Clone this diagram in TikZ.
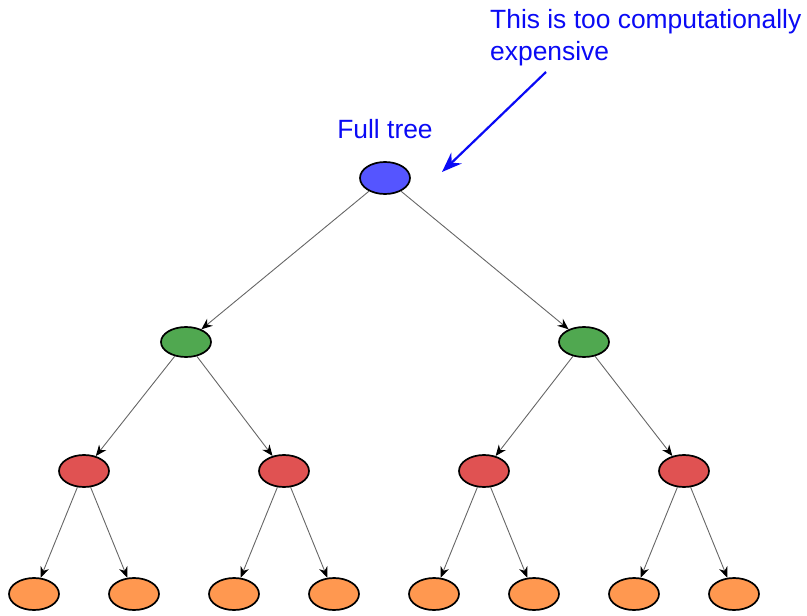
\documentclass[tikz,border=0pt]{standalone}
\usepackage{fontspec}
\setmainfont{Liberation Sans}
\usetikzlibrary{shapes.geometric,arrows.meta}
\definecolor{rootc}{RGB}{85,85,255}
\definecolor{greenc}{RGB}{80,168,80}
\definecolor{redc}{RGB}{224,82,82}
\definecolor{orangec}{RGB}{255,152,80}
\definecolor{labc}{RGB}{10,10,245}
\begin{document}
\begin{tikzpicture}[x=1pt,y=-1pt,
  tn/.style={ellipse,draw=black,line width=1.7pt,minimum width=50pt,minimum height=32pt,inner sep=0pt},
  edge/.style={draw=black!60,line width=0.9pt,-{Stealth[black,length=11pt,width=9pt]}},
  lab/.style={text=labc,font=\fontsize{26.4}{30}\selectfont,inner sep=0pt}]
\useasboundingbox (0,0) rectangle (807,616);
\node[tn,fill=rootc] (r) at (385,178) {};
\node[tn,fill=greenc,minimum height=30pt] (g1) at (186,342) {};
\node[tn,fill=greenc,minimum height=30pt] (g2) at (584,342) {};
\foreach \i/\x in {1/84,2/284,3/484,4/684}{
  \node[tn,fill=redc] (r\i) at (\x,471) {};
}
\foreach \i/\x in {1/34,2/134,3/234,4/334,5/434,6/534,7/634,8/734}{
  \node[tn,fill=orangec] (l\i) at (\x,594) {};
}
\draw[edge] (r) -- (g1);
\draw[edge] (r) -- (g2);
\draw[edge] (g1) -- (r1);
\draw[edge] (g1) -- (r2);
\draw[edge] (g2) -- (r3);
\draw[edge] (g2) -- (r4);
\draw[edge] (r1) -- (l1);
\draw[edge] (r1) -- (l2);
\draw[edge] (r2) -- (l3);
\draw[edge] (r2) -- (l4);
\draw[edge] (r3) -- (l5);
\draw[edge] (r3) -- (l6);
\draw[edge] (r4) -- (l7);
\draw[edge] (r4) -- (l8);
\node[lab,anchor=base west] (t1) at (490,28) {This is too computationally};
\node[lab,anchor=base west] (t2) at (490,60) {expensive};
\node[lab,anchor=base] (ft) at (385,138) {Full tree};
\coordinate (as) at (546,72);
\coordinate (ae) at (442,172);
\draw[labc,line width=2.2pt,-{Stealth[length=20pt,width=15pt]}] (as) -- (ae);
\end{tikzpicture}
\end{document}
